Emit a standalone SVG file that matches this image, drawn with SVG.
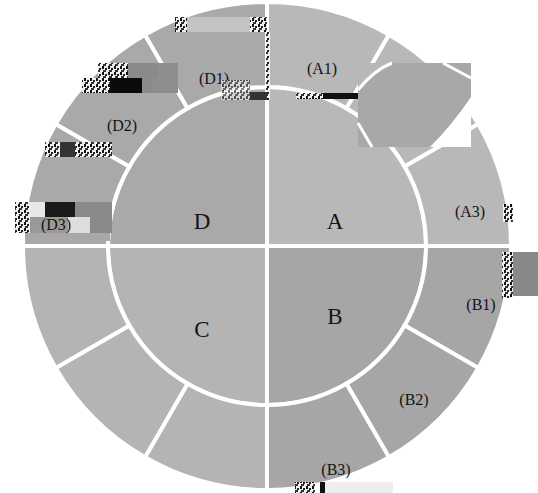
<svg xmlns="http://www.w3.org/2000/svg" width="538" height="493" viewBox="0 0 538 493">
<style>
.seg{stroke:#fff;stroke-width:4;stroke-linejoin:miter}
.lbl{font-family:"Liberation Serif","Times New Roman",serif;font-size:16px;text-anchor:middle;fill:#141414}
.q{font-size:23px}
.la{fill:#b8b8b8}.lb{fill:#a6a6a6}.lc{fill:#b4b4b4}.ld{fill:#a9a9a9}
</style>
<defs>
<pattern id="noise" width="6" height="6" patternUnits="userSpaceOnUse">
<rect width="6" height="6" fill="#f0f0f0"/>
<rect x="0" y="0" width="2" height="3" fill="#111"/>
<rect x="3" y="2" width="2" height="2" fill="#222"/>
<rect x="1" y="4" width="3" height="2" fill="#333"/>
</pattern>
</defs>
<rect width="538" height="493" fill="#fff"/>
<g id="nodes">
<g id="A"><path class="seg la" d="M267,246 L267,87 A159,159 0 0 1 426,246 Z"/><text class="lbl q" x="335" y="229">A</text></g>
<g id="B"><path class="seg lb" d="M267,246 L426,246 A159,159 0 0 1 267,405 Z"/><text class="lbl q" x="335" y="324">B</text></g>
<g id="C"><path class="seg lc" d="M267,246 L267,405 A159,159 0 0 1 108,246 Z"/><text class="lbl q" x="202" y="337">C</text></g>
<g id="D"><path class="seg ld" d="M267,246 L108,246 A159,159 0 0 1 267,87 Z"/><text class="lbl q" x="202" y="229">D</text></g>

<g id="A1"><path class="seg la" d="M267,87 L267,2 A244,244 0 0 1 389,34.69 L346.5,108.3 A159,159 0 0 0 267,87 Z"/><text class="lbl" x="322" y="74">(A1)</text></g>
<g id="A2"><path class="seg la" d="M346.5,108.3 L389,34.69 A244,244 0 0 1 478.31,124 L404.7,166.5 A159,159 0 0 0 346.5,108.3 Z"/></g>
<g id="A3"><path class="seg la" d="M404.7,166.5 L478.31,124 A244,244 0 0 1 511,246 L426,246 A159,159 0 0 0 404.7,166.5 Z"/><text class="lbl" x="470" y="217">(A3)</text></g>
<g id="B1"><path class="seg lb" d="M426,246 L511,246 A244,244 0 0 1 478.31,368 L404.7,325.5 A159,159 0 0 0 426,246 Z"/><text class="lbl" x="481" y="310">(B1)</text></g>
<g id="B2"><path class="seg lb" d="M404.7,325.5 L478.31,368 A244,244 0 0 1 389,457.31 L346.5,383.7 A159,159 0 0 0 404.7,325.5 Z"/><text class="lbl" x="414" y="405">(B2)</text></g>
<g id="B3"><path class="seg lb" d="M346.5,383.7 L389,457.31 A244,244 0 0 1 267,490 L267,405 A159,159 0 0 0 346.5,383.7 Z"/><text class="lbl" x="336" y="475">(B3)</text></g>
<g id="C1"><path class="seg lc" d="M267,405 L267,490 A244,244 0 0 1 145,457.31 L187.5,383.7 A159,159 0 0 0 267,405 Z"/></g>
<g id="C2"><path class="seg lc" d="M187.5,383.7 L145,457.31 A244,244 0 0 1 55.69,368 L129.3,325.5 A159,159 0 0 0 187.5,383.7 Z"/></g>
<g id="C3"><path class="seg lc" d="M129.3,325.5 L55.69,368 A244,244 0 0 1 23,246 L108,246 A159,159 0 0 0 129.3,325.5 Z"/></g>
<g id="D3"><path class="seg ld" d="M108,246 L23,246 A244,244 0 0 1 55.69,124 L129.3,166.5 A159,159 0 0 0 108,246 Z"/></g>
<g id="D2"><path class="seg ld" d="M129.3,166.5 L55.69,124 A244,244 0 0 1 145,34.69 L187.5,108.3 A159,159 0 0 0 129.3,166.5 Z"/><text class="lbl" x="122" y="131">(D2)</text></g>
<g id="D1"><path class="seg ld" d="M187.5,108.3 L145,34.69 A244,244 0 0 1 267,2 L267,87 A159,159 0 0 0 187.5,108.3 Z"/><text class="lbl" x="214" y="84">(D1)</text></g>
</g>
<g id="connectors"/>
<g id="artifacts">
<rect x="358" y="63" width="113" height="84" fill="#a8a8a8"/>
<path d="M358,63 H392 Q374,70 358,90 Z" fill="#b8b8b8"/>
<path d="M358,90 Q374,70 392,63" fill="none" stroke="#fff" stroke-width="3"/>
<path d="M358,123 L372,147" fill="none" stroke="#fff" stroke-width="3"/>
<path d="M443,63 L471,78" fill="none" stroke="#fff" stroke-width="3"/>
<path d="M471,97 Q452,125 430,147 H471 Z" fill="#fff"/>
<rect x="296" y="93" width="62" height="6" fill="url(#noise)"/>
<rect x="323" y="93" width="35" height="6" fill="#111"/>
<rect x="175" y="17" width="92" height="15" fill="#c3c3c3"/>
<rect x="175" y="17" width="12" height="15" fill="url(#noise)"/>
<rect x="250" y="17" width="17" height="15" fill="url(#noise)"/>
<rect x="266" y="32" width="4" height="68" fill="url(#noise)"/>
<rect x="221" y="80" width="29" height="20" fill="url(#noise)" opacity="0.6"/>
<rect x="250" y="92" width="17" height="8" fill="#333"/>
<rect x="150" y="63" width="28" height="30" fill="#8e8e8e"/>
<rect x="98" y="63" width="30" height="15" fill="url(#noise)"/>
<rect x="128" y="63" width="30" height="15" fill="#8a8a8a"/>
<rect x="82" y="78" width="28" height="15" fill="url(#noise)"/>
<rect x="110" y="78" width="32" height="15" fill="#0a0a0a"/>
<rect x="142" y="78" width="10" height="15" fill="#8a8a8a"/>
<rect x="45" y="142" width="15" height="15" fill="url(#noise)"/>
<rect x="60" y="142" width="15" height="15" fill="#333"/>
<rect x="75" y="142" width="37" height="15" fill="url(#noise)"/>
<rect x="15" y="202" width="15" height="31" fill="url(#noise)"/>
<rect x="30" y="202" width="15" height="15" fill="#e8e8e8"/>
<rect x="45" y="202" width="30" height="15" fill="#1a1a1a"/>
<rect x="75" y="202" width="37" height="15" fill="#8a8a8a"/>
<rect x="30" y="217" width="38" height="16" fill="#999"/>
<rect x="68" y="217" width="22" height="16" fill="#ddd"/>
<rect x="90" y="217" width="22" height="16" fill="#8a8a8a"/>
<rect x="25" y="233" width="85" height="8" fill="#a8a8a8"/>
<text class="lbl" x="56" y="230">(D3)</text>
<rect x="503" y="204" width="10" height="18" fill="url(#noise)"/>
<rect x="502" y="252" width="11" height="46" fill="url(#noise)"/>
<rect x="513" y="252" width="25" height="44" fill="#888"/>
<rect x="295" y="482" width="20" height="11" fill="url(#noise)"/>
<rect x="320" y="482" width="5" height="11" fill="#111"/>
<rect x="325" y="482" width="68" height="11" fill="#eee"/>
</g>
</svg>
